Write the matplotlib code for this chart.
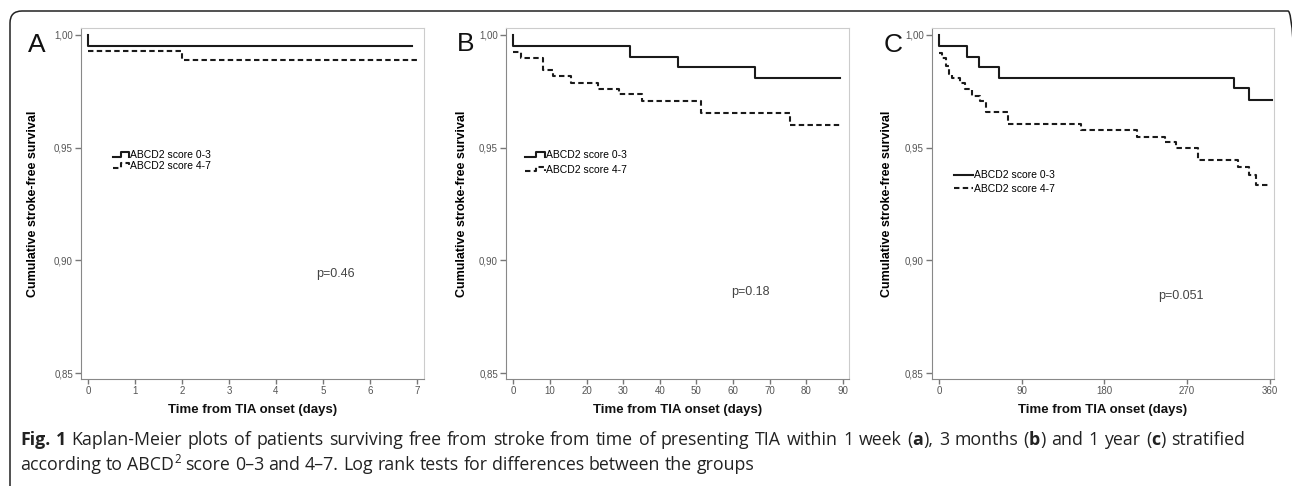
import numpy as np
import matplotlib
matplotlib.use('Agg')
import matplotlib.pyplot as plt
from matplotlib.lines import Line2D
from matplotlib.legend_handler import HandlerLine2D
from matplotlib.patches import FancyBboxPatch
from matplotlib.transforms import IdentityTransform

plt.rcParams['font.family'] = ['Liberation Sans', 'DejaVu Sans']

# Kaplan-Meier step data (days, survival)
a_days_low = [0, 0, 6.9]
a_surv_low = [1.0, 0.995, 0.995]
a_days_high = [0, 2, 7]
a_surv_high = [0.993, 0.989, 0.989]

b_days_low = [0, 0, 32, 45, 66, 89.2]
b_surv_low = [1.0, 0.995, 0.990, 0.9855, 0.9807, 0.9807]
b_days_high = [0, 2.0, 8.2, 10.8, 15.7, 23.0, 28.8, 35.1, 51.2, 75.6, 89.2]
b_surv_high = [0.9924, 0.9895, 0.9843, 0.9817, 0.9785, 0.9760, 0.9737,
               0.9705, 0.9654, 0.9602, 0.9602]

c_days_low = [0, 0, 31, 44, 65, 321, 338, 363]
c_surv_low = [1.0, 0.9952, 0.9902, 0.9857, 0.9810, 0.9762, 0.9711, 0.9711]
c_days_high = [0, 2.9, 7.2, 10.9, 14.5, 22.8, 28.3, 35.5, 44.6, 50.8, 74.7,
               154.5, 215.8, 245.8, 257.8, 282.0, 325.6, 337.5, 345.5, 360]
c_surv_high = [0.9920, 0.9898, 0.9861, 0.9825, 0.9810, 0.9788, 0.9759,
               0.9729, 0.9705, 0.9657, 0.9605, 0.9576, 0.9547, 0.9525,
               0.9496, 0.9444, 0.9415, 0.9379, 0.9335, 0.9335]

group_labels = ['ABCD2 score 0-3', 'ABCD2 score 4-7']
p_values = ['p=0.46', 'p=0.18', 'p=0.051']
panel_letters = ['A', 'B', 'C']
y_ticks = [0.85, 0.90, 0.95, 1.00]
a_xticks = [0, 1, 2, 3, 4, 5, 6, 7]
b_xticks = [0, 10, 20, 30, 40, 50, 60, 70, 80, 90]
c_xticks = [0, 90, 180, 270, 360]


class StepHandler(HandlerLine2D):
    # SPSS-like step shaped legend glyph
    def create_artists(self, legend, orig_handle, xdescent, ydescent,
                       width, height, fontsize, trans):
        xs = np.array([0, 0.55, 0.55, 1.0, 1.0]) * width - xdescent
        lo, hi = 0.2 * height, 0.8 * height
        ys = np.array([lo, lo, hi, hi, lo]) - ydescent
        line = Line2D(xs, ys)
        self.update_prop(line, orig_handle, legend)
        line.set_transform(trans)
        return [line]


W, H = 1292, 486
fig = plt.figure(figsize=(W / 100, H / 100), dpi=100)

panels = [
    dict(days=(a_days_low, a_days_high), surv=(a_surv_low, a_surv_high),
         xticks=a_xticks, xlim=(-0.15, 7.15), left=81, width=343,
         leg=(0.093, 0.652), handlelen=1.5, spacing=0.08, step=True,
         p=(0.743, 0.299), ylab=-0.122, letter=(28, 52)),
    dict(days=(b_days_low, b_days_high), surv=(b_surv_low, b_surv_high),
         xticks=b_xticks, xlim=(-2.0, 91.7), left=506, width=343,
         leg=(0.055, 0.652), handlelen=1.9, spacing=0.45, step=True,
         p=(0.714, 0.249), ylab=-0.111, letter=(457, 51)),
    dict(days=(c_days_low, c_days_high), surv=(c_surv_low, c_surv_high),
         xticks=c_xticks, xlim=(-7.9, 364.4), left=931.7, width=342,
         leg=(0.065, 0.595), handlelen=1.8, spacing=0.35, step=False,
         p=(0.729, 0.236), ylab=-0.114, letter=(884, 52)),
]

ax_top, ax_bottom = 28, 379
for i, pn in enumerate(panels):
    ax = fig.add_axes([pn['left'] / W, (H - ax_bottom) / H,
                       pn['width'] / W, (ax_bottom - ax_top) / H])
    l1, = ax.step(pn['days'][0], pn['surv'][0], where='post',
                  color='#1a1a1a', lw=1.5)
    l2, = ax.step(pn['days'][1], pn['surv'][1], where='post',
                  color='#1a1a1a', lw=1.5, dashes=(2.6, 1.6))
    ax.set_xlim(*pn['xlim'])
    ax.set_ylim(0.8474, 1.003)
    ax.set_yticks(y_ticks)
    ax.set_yticklabels([f'{v:.2f}'.replace('.', ',') for v in y_ticks])
    ax.set_xticks(pn['xticks'])
    ax.tick_params(axis='y', length=4.3, width=1, color='#777',
                   labelsize=7, labelcolor='#555', pad=1.5)
    ax.tick_params(axis='x', length=3.6, width=1, color='#777',
                   labelsize=7, labelcolor='#555', pad=1.5)
    for s in ['left', 'bottom']:
        ax.spines[s].set_color('#888')
    for s in ['top', 'right']:
        ax.spines[s].set_color('#cccccc')

    ax.set_ylabel('Cumulative stroke-free survival', fontsize=9,
                  fontweight='bold')
    ax.yaxis.set_label_coords(pn['ylab'], 0.5)
    ax.set_xlabel('Time from TIA onset (days)', fontsize=9.5,
                  fontweight='bold', color='#111')
    ax.xaxis.set_label_coords(0.5, -0.072)

    hmap = {l1: StepHandler(), l2: StepHandler()} if pn['step'] else None
    ax.legend([l1, l2], group_labels, loc='upper left',
              bbox_to_anchor=pn['leg'], frameon=False, fontsize=7.5,
              handlelength=pn['handlelen'], handletextpad=0.15,
              labelspacing=pn['spacing'], borderpad=0, borderaxespad=0,
              handler_map=hmap)

    ax.text(pn['p'][0], pn['p'][1], p_values[i], transform=ax.transAxes,
            fontsize=9, color='#444', ha='center', va='center')

    lx, ly = pn['letter']
    fig.text(lx / W, 1 - ly / H, panel_letters[i], fontsize=19,
             va='baseline', ha='left', color='#111')

# rounded frame around the figure (right and bottom sides run off the page)
frame = FancyBboxPatch((10, -30), W + 8 - 10, (H - 11) + 30,
                       boxstyle='round,pad=0,rounding_size=12',
                       transform=IdentityTransform(), fill=False,
                       edgecolor='#222', lw=1.1)
fig.add_artist(frame)

# caption, written word by word so bold bits and justification work
renderer = fig.canvas.get_renderer()
cap_font = 'Open Sans'


def text_width(s, size, weight='normal'):
    t = fig.text(0, 0, s, fontsize=size, fontweight=weight, family=cap_font)
    w = t.get_window_extent(renderer=renderer).width
    t.remove()
    return w


def draw_caption_line(x0, y0, runs, size, right=None):
    # runs: (text, weight, raise_px, size_scale); split into words
    words = [[]]
    for txt, weight, dy, scale in runs:
        for k, part in enumerate(txt.split(' ')):
            if k > 0:
                words.append([])
            if part:
                words[-1].append((part, weight, dy, scale))
    words = [w for w in words if w]
    widths = [sum(text_width(p, size * sc, wt) for p, wt, _, sc in w)
              for w in words]
    space = text_width('a a', size) - text_width('aa', size)
    if right is not None:
        space = (right - x0 - sum(widths)) / (len(words) - 1)
    x = x0
    for w, ww in zip(words, widths):
        cx = x
        for p, wt, dy, sc in w:
            fig.text(cx, y0 + dy, p, fontsize=size * sc, fontweight=wt,
                     family=cap_font, color='#222', va='baseline',
                     transform=IdentityTransform())
            cx += text_width(p, size * sc, wt)
        x += ww + space


cap_size = 12.8
line1 = [('Fig. 1', 'bold', 0, 1),
         (' Kaplan-Meier plots of patients surviving free from stroke from time of presenting TIA within 1 week (', 'normal', 0, 1),
         ('a', 'bold', 0, 1), ('), 3 months (', 'normal', 0, 1), ('b', 'bold', 0, 1),
         (') and 1 year (', 'normal', 0, 1), ('c', 'bold', 0, 1), (') stratified', 'normal', 0, 1)]
line2 = [('according to ABCD', 'normal', 0, 1), ('2', 'normal', 7, 0.65),
         (' score 0\u20133 and 4\u20137. Log rank tests for differences between the groups', 'normal', 0, 1)]
draw_caption_line(20, H - 445, line1, cap_size, right=1245)
draw_caption_line(20, H - 470, line2, cap_size)

fig.savefig('out.png', dpi=100)
